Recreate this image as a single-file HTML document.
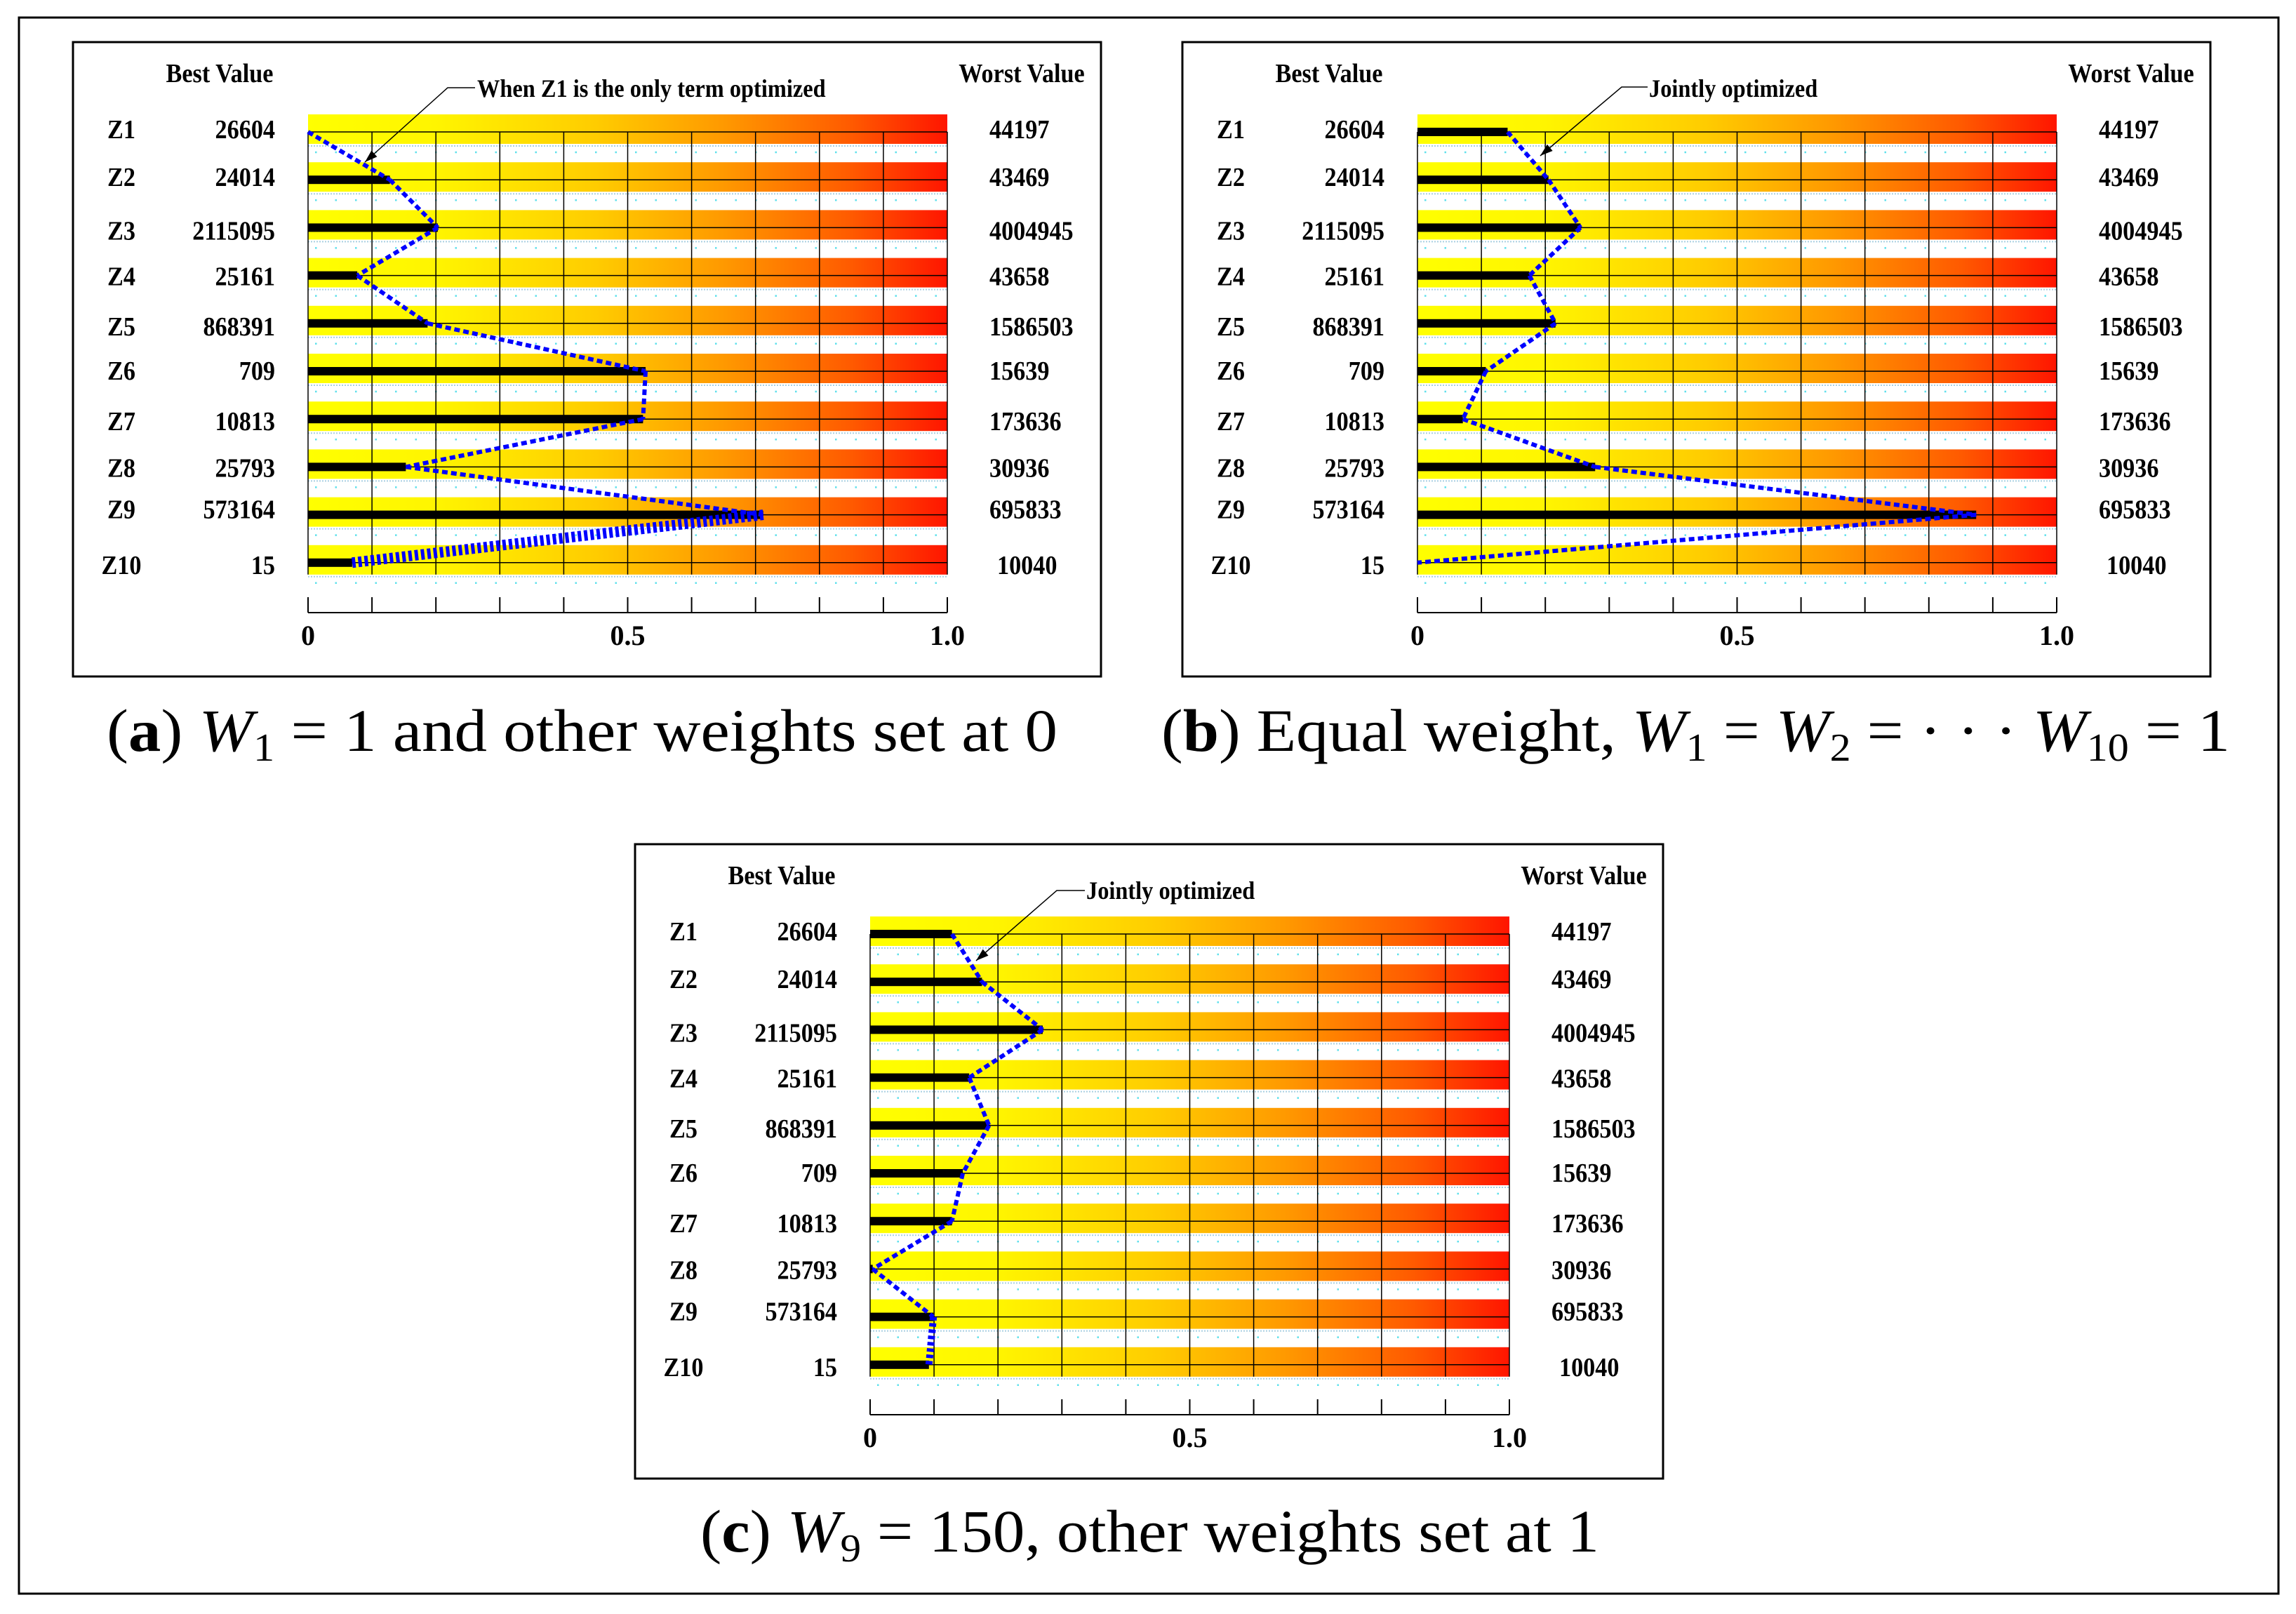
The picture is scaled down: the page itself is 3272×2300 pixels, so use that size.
<!DOCTYPE html>
<html><head><meta charset="utf-8"><style>
html,body{margin:0;padding:0;background:#fff;}
svg{display:block;}
text{font-family:"Liberation Serif",serif;}
</style></head><body>
<svg id="fig" xmlns="http://www.w3.org/2000/svg" width="3272" height="2300" viewBox="0 0 3272 2300">
<defs>
<linearGradient id="bandGrad" x1="0" y1="0" x2="1" y2="0">
<stop offset="0" stop-color="#ffff00"/><stop offset="0.2" stop-color="#fff500"/>
<stop offset="0.45" stop-color="#ffcc00"/><stop offset="0.65" stop-color="#ff9900"/>
<stop offset="0.85" stop-color="#ff5a00"/><stop offset="1" stop-color="#ff1500"/>
</linearGradient>
</defs>
<rect x="27" y="25" width="3220" height="2246" fill="none" stroke="#000" stroke-width="3"/>
</svg>
<script>
const categories = ["Z1","Z2","Z3","Z4","Z5","Z6","Z7","Z8","Z9","Z10"];
const bestValues = ["26604","24014","2115095","25161","868391","709","10813","25793","573164","15"];
const worstValues = ["44197","43469","4004945","43658","1586503","15639","173636","30936","695833","10040"];
const seriesA = [0, 0.128, 0.203, 0.077, 0.187, 0.528, 0.524, 0.153, 0.712, 0.069];
const seriesB = [0.141, 0.205, 0.255, 0.175, 0.216, 0.107, 0.071, 0.278, 0.874, 0];
const seriesC = [0.128, 0.175, 0.27, 0.155, 0.186, 0.145, 0.128, 0.004, 0.099, 0.092];
const tickValues = [0,0.1,0.2,0.3,0.4,0.5,0.6,0.7,0.8,0.9,1.0];
const tickLabels = ["0","0.5","1.0"];
const tickLabelValues = [0,0.5,1.0];

const NS = "http://www.w3.org/2000/svg";
const svg = document.getElementById('fig');
function mk(tag, attrs, parent){
  const e = document.createElementNS(NS, tag);
  for (const k in attrs) e.setAttribute(k, attrs[k]);
  parent.appendChild(e);
  return e;
}
const labelDy = [-4,-4,4,1,4,-1,3,1,-8,3];

function panel(id, bx, by, series, annText, annRel, thickLast){
  const g = mk('g', {transform:`translate(${bx},${by})`}, svg);
  
  
  const box = mk('rect', {x:0,y:0,width:1465,height:904,fill:'#fff',stroke:'#000','stroke-width':3}, g);
  
  
  const x0 = 335, x1 = 1246;
  const xs = v => x0 + v*(x1-x0);
  const ys = i => 128 + i*68.2;
  const hb = mk('text', {transform:'translate(209,57) scale(0.9,1)','text-anchor':'middle','font-size':38,'font-weight':'bold'}, g);
  hb.textContent = 'Best Value';
  
  
  const hw = mk('text', {transform:'translate(1352,57) scale(0.9,1)','text-anchor':'middle','font-size':38,'font-weight':'bold'}, g);
  hw.textContent = 'Worst Value';
  
  
  categories.forEach((c,i)=>{
    const y = ys(i);
    const b = mk('rect', {x:x0, y:y-25, width:x1-x0, height:42, fill:'url(#bandGrad)'}, g);
    
    
    mk('line', {x1:x0, x2:x1, y1:y+20, y2:y+20, stroke:'#a9cfe0','stroke-width':2,'stroke-dasharray':'2 2'}, g);
    mk('line', {x1:x0+10, x2:x1, y1:y+29, y2:y+29, stroke:'#5fe0ec','stroke-width':2.5,'stroke-dasharray':'2.5 26'}, g);
  });
  tickValues.forEach(v=>{
    const l = mk('line', {x1:xs(v), x2:xs(v), y1:ys(0), y2:ys(9)+17, stroke:'#000','stroke-width':1.5}, g);
    
    
  });
  categories.forEach((c,i)=>{
    const y = ys(i);
    mk('line', {x1:x0, x2:x1, y1:y, y2:y, stroke:'#000','stroke-width':1.5}, g);
    const zl = mk('text', {transform:`translate(69,${y+labelDy[i]+13}) scale(0.9,1)`,'text-anchor':'middle','font-size':38,'font-weight':'bold'}, g);
    zl.textContent = c;
    
    
    const bv = mk('text', {transform:`translate(288,${y+labelDy[i]+13}) scale(0.9,1)`,'text-anchor':'end','font-size':38,'font-weight':'bold'}, g);
    bv.textContent = bestValues[i];
    
    
    const wv = mk('text', {transform:`translate(${i==9?1317:1306},${y+labelDy[i]+13}) scale(0.9,1)`,'font-size':38,'font-weight':'bold'}, g);
    wv.textContent = worstValues[i];
    
    
    if (series[i] > 0.002){
      const bar = mk('rect', {x:x0, y:y-6, width:xs(series[i])-x0, height:12, fill:'#000'}, g);
      
      
    }
  });
  for (let i=0;i<series.length-1;i++){
    const thick = thickLast && i==8;
    const seg = mk('line', {x1:xs(series[i]), y1:ys(i), x2:xs(series[i+1]), y2:ys(i+1), stroke:'#0000ff','stroke-width':thick?thickLast:6,'stroke-dasharray':thick?'5 4':'8 5'}, g);
    
    
  }
  const ax = mk('line', {x1:x0, x2:x1, y1:813, y2:813, stroke:'#000','stroke-width':2}, g);
  
  
  tickValues.forEach(v=>{
    const t = mk('line', {x1:xs(v), x2:xs(v), y1:791, y2:813, stroke:'#000','stroke-width':2}, g);
    
    
  });
  tickLabels.forEach((t,k)=>{
    const tl = mk('text', {x:xs(tickLabelValues[k]), y:859,'text-anchor':'middle','font-size':40,'font-weight':'bold'}, g);
    tl.textContent = t;
    
    
  });
  const a = annRel;
  mk('polyline', {points:`${a.hx2},${a.hy} ${a.hx1},${a.hy} ${a.ax},${a.ay}`, fill:'none', stroke:'#000','stroke-width':1.5}, g);
  const ang = Math.atan2(a.ay-a.hy, a.ax-a.hx1);
  const L=18, W=6;
  const bxp = a.ax - L*Math.cos(ang), byp = a.ay - L*Math.sin(ang);
  mk('polygon', {points:`${a.ax},${a.ay} ${bxp - W*Math.sin(ang)},${byp + W*Math.cos(ang)} ${bxp + W*Math.sin(ang)},${byp - W*Math.cos(ang)}`, fill:'#000'}, g);
  const at = mk('text', {transform:`translate(${a.tx},78) scale(0.9,1)`,'font-size':36,'font-weight':'bold'}, g);
  at.textContent = annText;
  
  
  return g;
}

panel('a', 104, 60, seriesA, 'When Z1 is the only term optimized', {hx2:573,hx1:534,hy:65,ax:416,ay:171,tx:576}, 15);
panel('b', 1685, 60, seriesB, 'Jointly optimized', {hx2:663,hx1:626,hy:64,ax:510,ay:162,tx:665}, 0);
panel('c', 905, 1203, seriesC, 'Jointly optimized', {hx2:641,hx1:601,hy:66,ax:486,ay:166,tx:643}, 10);
</script>
<svg style="position:absolute;left:0;top:0" width="3272" height="2300">
<text x="152" y="1070" font-size="86" textLength="1355" lengthAdjust="spacingAndGlyphs" style="font-family:'Liberation Serif',serif">(<tspan font-weight="bold">a</tspan>) <tspan font-style="italic">W</tspan><tspan font-size="56" dy="14">1</tspan><tspan dy="-14"> = 1 and other weights set at 0</tspan></text>
<text x="1655" y="1070" font-size="86" textLength="1523" lengthAdjust="spacingAndGlyphs" style="font-family:'Liberation Serif',serif">(<tspan font-weight="bold">b</tspan>) Equal weight, <tspan font-style="italic">W</tspan><tspan font-size="56" dy="14">1</tspan><tspan dy="-14"> = </tspan><tspan font-style="italic">W</tspan><tspan font-size="56" dy="14">2</tspan><tspan dy="-14"> = · · · </tspan><tspan font-style="italic">W</tspan><tspan font-size="56" dy="14">10</tspan><tspan dy="-14"> = 1</tspan></text>
<text x="998" y="2211" font-size="86" textLength="1281" lengthAdjust="spacingAndGlyphs" style="font-family:'Liberation Serif',serif">(<tspan font-weight="bold">c</tspan>) <tspan font-style="italic">W</tspan><tspan font-size="56" dy="14">9</tspan><tspan dy="-14"> = 150, other weights set at 1</tspan></text>
</svg>
</body></html>
